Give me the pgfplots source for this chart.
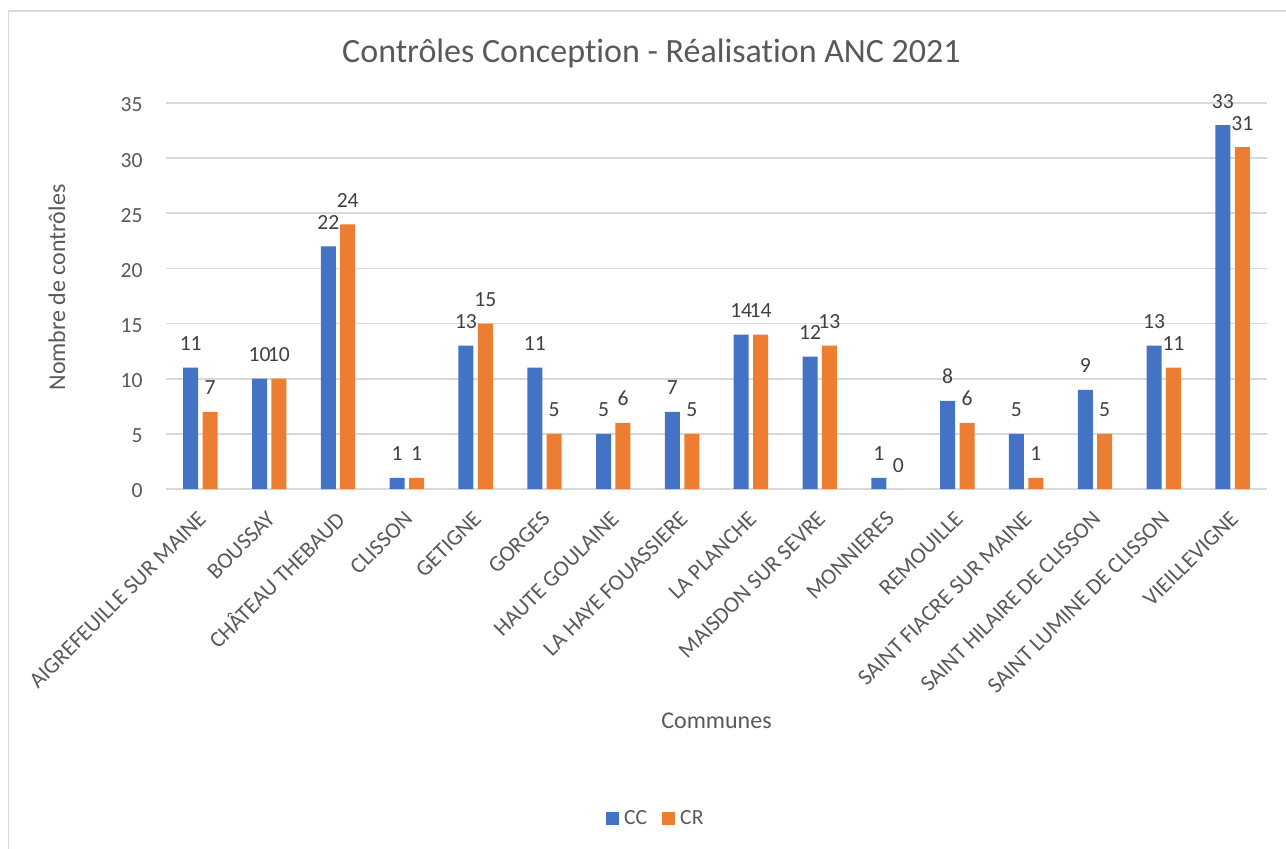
\documentclass[border=0pt]{standalone}
\usepackage{pgfplots}
\pgfplotsset{compat=1.18}
\usepackage{fontspec}
\setmainfont{Carlito}[Ligatures=NoCommon]
\definecolor{ccblue}{HTML}{4472C4}
\definecolor{crorange}{HTML}{ED7D31}
\definecolor{txtgray}{HTML}{595959}
\definecolor{lblgray}{HTML}{404040}
\definecolor{gridgray}{HTML}{D9D9D9}
\begin{document}
\begin{tikzpicture}
\path[use as bounding box] (0,0) rectangle (643pt,424pt);
\draw[gridgray, line width=0.85pt] (4.2pt,-2pt) -- (4.2pt,418.5pt) -- (646pt,418.5pt);
\begin{axis}[
  at={(83pt,179.5pt)}, anchor=south west,
  scale only axis, width=550.5pt, height=193pt,
  clip=false,
  ybar=2.2pt, bar width=7.5pt,
  xmin=-0.5, xmax=15.5, ymin=0, ymax=35,
  ytick={0,5,...,35},
  xtick={0,...,15},
  xticklabels={AIGREFEUILLE SUR MAINE, BOUSSAY, CHÂTEAU THEBAUD, CLISSON, GETIGNE, GORGES, HAUTE GOULAINE, LA HAYE FOUASSIERE, LA PLANCHE, MAISDON SUR SEVRE, MONNIERES, REMOUILLE, SAINT FIACRE SUR MAINE, SAINT HILAIRE DE CLISSON, SAINT LUMINE DE CLISSON, VIEILLEVIGNE},
  axis line style={draw=none},
  major tick length=0pt,
  tick style={draw=none},
  ymajorgrids,
  major grid style={gridgray, line width=0.85pt},
  /pgf/number format/assume math mode=true,
  tick label style={font=\fontsize{10.8}{12}\selectfont, text=txtgray},
  yticklabel style={anchor=east, inner sep=0pt, xshift=-11.5pt, yshift=-1pt},
  xticklabel style={font=\fontsize{11.3}{13}\selectfont, xshift=1pt, yshift=-13pt, rotate=45, anchor=east, inner sep=0pt},
  nodes near coords,
  every node near coord/.append style={font=\fontsize{10.8}{12}\selectfont, text=lblgray, anchor=base, yshift=8.5pt, inner sep=0pt},
  title={Contrôles Conception - Réalisation ANC 2021},
  title style={at={(axis description cs:0.441,1.0733)}, anchor=base, font=\fontsize{17}{20}\selectfont, text=txtgray},
  xlabel={Communes},
  xlabel style={at={(axis description cs:0.5,-0.6205)}, anchor=base, font=\fontsize{12}{14}\selectfont, text=txtgray},
  ylabel={Nombre de contrôles},
  ylabel style={at={(axis description cs:-0.0917,0.522)}, anchor=base, font=\fontsize{12}{14}\selectfont, text=txtgray},
  legend style={at={(axis description cs:0.444,-0.854)}, anchor=center, draw=none, fill=none, legend columns=-1, font=\fontsize{10.8}{12}\selectfont, text=txtgray, inner sep=0pt, nodes={inner sep=0pt}, /tikz/every even column/.append style={column sep=7.5pt}, /tikz/every odd column/.append style={column sep=2.5pt}},
  legend image code/.code={\fill[#1] (0pt,-3.25pt) rectangle (6.5pt,3.25pt);},
]
\addplot[fill=ccblue, draw=none] coordinates {(0,11) (1,10) (2,22) (3,1) (4,13) (5,11) (6,5) (7,7) (8,14) (9,12) (10,1) (11,8) (12,5) (13,9) (14,13) (15,33)};
\addplot[fill=crorange, draw=none] coordinates {(0,7) (1,10) (2,24) (3,1) (4,15) (5,5) (6,6) (7,5) (8,14) (9,13) (10,0) (11,6) (12,1) (13,5) (14,11) (15,31)};
\legend{CC, CR}
\end{axis}
\end{tikzpicture}
\end{document}
